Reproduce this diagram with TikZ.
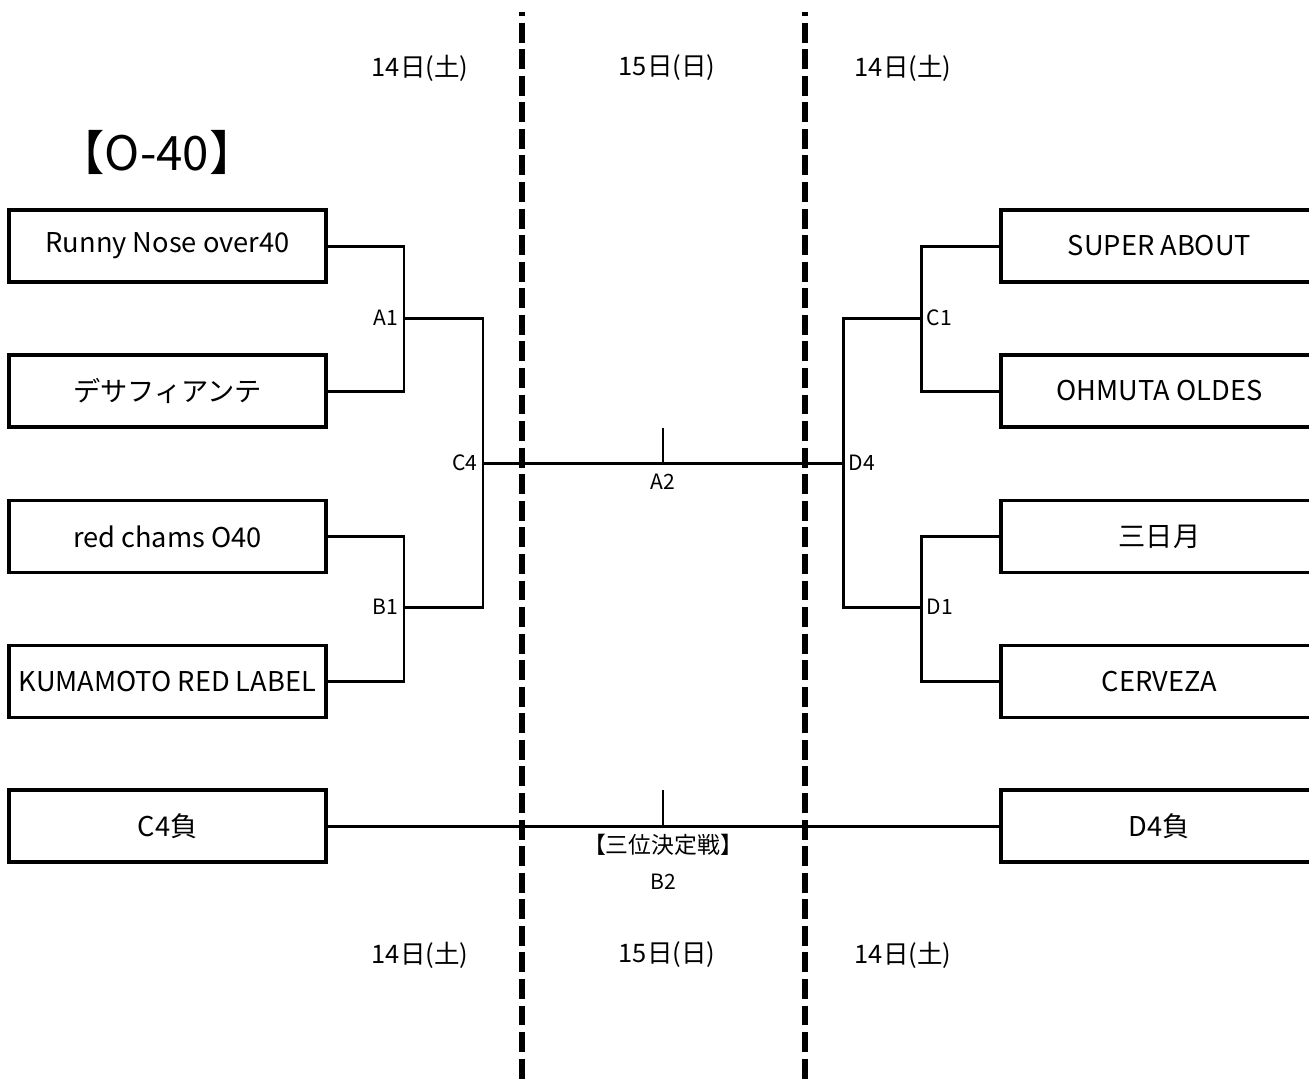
\documentclass[tikz,border=0pt]{standalone}
\usepackage{fontspec}
\setmainfont{Noto Sans CJK JP}
\usetikzlibrary{positioning}

\begin{document}
\begin{tikzpicture}[
        x=0.02cm, y=-0.02cm,
        team/.style={draw, line width=1.8pt, minimum width=6.34cm, minimum height=1.44cm, inner sep=0pt, font=\fontsize{15.5}{18}\selectfont},
        edge/.style={draw, line width=1.7pt},
        dayline/.style={draw, line width=3.1pt, dash pattern=on 11.34pt off 3.78pt, dash phase=9.07pt},
        lbl/.style={inner sep=1pt, font=\fontsize{12}{14}\selectfont},
        date/.style={inner sep=0pt, font=\fontsize{14.5}{17}\selectfont},
    ]
    \useasboundingbox (0,0) rectangle (1309,1080);
    \clip (0,0) rectangle (1309,1080);

    % Title
    \node[font=\fontsize{27}{31}\selectfont] (title) at (157,152) {【O-40】};

    % === DAY SEPARATORS ===
    \coordinate (dayLtop) at (522,12);
    \coordinate (dayLbot) at (522,1080);
    \coordinate (dayRtop) at (805,12);
    \coordinate (dayRbot) at (805,1080);
    \draw[dayline] (dayLtop) -- (dayLbot);
    \draw[dayline] (dayRtop) -- (dayRbot);

    % Dates
    \node[date] (dateTL) at (420,68) {14日(土)};
    \node[date] (dateTM) at (667,68) {15日(日)};
    \node[date] (dateTR) at (903,68) {14日(土)};
    \node[date] (dateBL) at (420,955) {14日(土)};
    \node[date] (dateBM) at (667,955) {15日(日)};
    \node[date] (dateBR) at (903,955) {14日(土)};

    % === LEFT SIDE ===
    \node[team] (runny) at (167.5,246) {Runny Nose over40};
    \node[team] (desafi) at (167.5,391) {デサフィアンテ};
    \node[team] (redchams) at (167.5,536.5) {red chams O40};
    \node[team] (kumamoto) at (167.5,681.5) {KUMAMOTO RED LABEL};
    \node[team] (c4lose) at (167.5,826) {C4負};

    \coordinate (a1) at (404,318);
    \coordinate (b1) at (404,607);
    \coordinate (c4) at (483,463);

    \draw[edge] (runny.east) -| (a1) |- (desafi.east);
    \draw[edge] (redchams.east) -| (b1) |- (kumamoto.east);
    \draw[edge] (a1) -| (c4) |- (b1);

    \node[lbl, left=2pt of a1] {A1};
    \node[lbl, left=2pt of b1] {B1};
    \node[lbl, left=2pt of c4] {C4};

    % === RIGHT SIDE ===
    \node[team] (super) at (1159.5,246) {SUPER ABOUT};
    \node[team] (ohmuta) at (1159.5,391) {OHMUTA OLDES};
    \node[team] (mikazuki) at (1159.5,536.5) {三日月};
    \node[team] (cerveza) at (1159.5,681.5) {CERVEZA};
    \node[team] (d4lose) at (1159.5,826) {D4負};

    \coordinate (c1) at (921,318);
    \coordinate (d1) at (921,607);
    \coordinate (d4) at (843,463);

    \draw[edge] (super.west) -| (c1) |- (ohmuta.west);
    \draw[edge] (mikazuki.west) -| (d1) |- (cerveza.west);
    \draw[edge] (c1) -| (d4) |- (d1);

    \node[lbl, right=2pt of c1] {C1};
    \node[lbl, right=2pt of d1] {D1};
    \node[lbl, right=2pt of d4] {D4};

    % === FINAL ===
    \coordinate (a2) at (663,463);
    \coordinate (a2top) at (663,428);
    \draw[edge] (c4) -- (d4);
    \draw[edge] (a2) -- (a2top);
    \node[lbl] at (663,482) {A2};

    % === THIRD PLACE ===
    \coordinate (b2) at (663,826);
    \coordinate (b2top) at (663,790);
    \draw[edge] (c4lose.east) -- (d4lose.west);
    \draw[edge] (b2) -- (b2top);
    \node[lbl, font=\fontsize{13}{15}\selectfont] at (663,845) {【三位決定戦】};
    \node[lbl] at (663,882) {B2};

\end{tikzpicture}
\end{document}
